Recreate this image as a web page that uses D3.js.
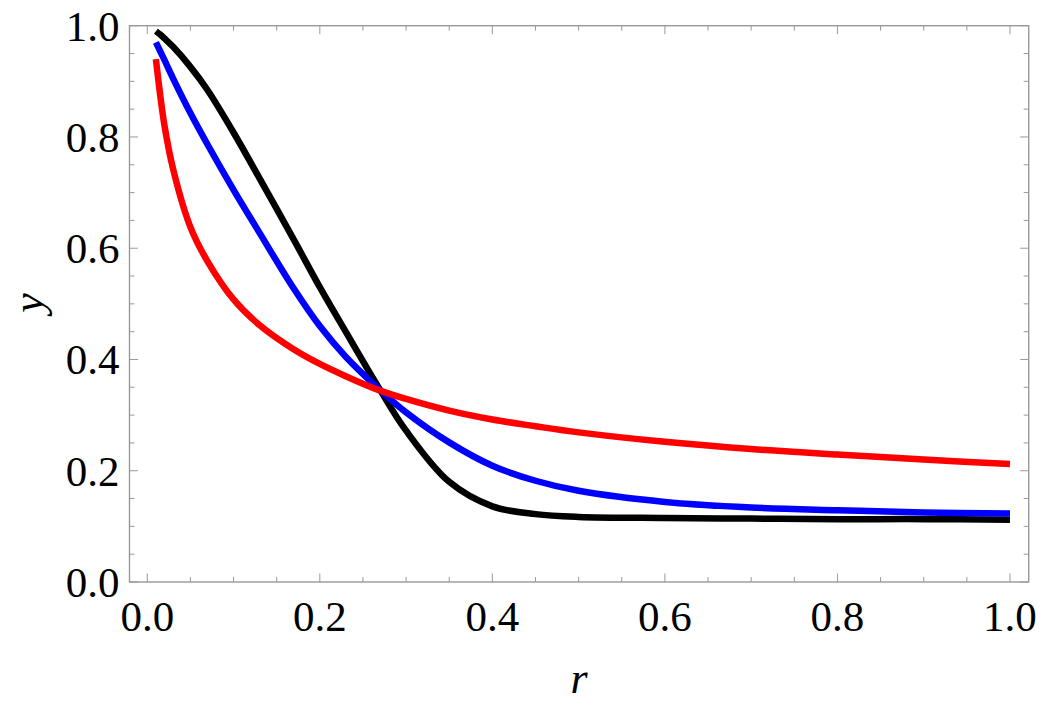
<!DOCTYPE html>
<html>
<head>
<meta charset="utf-8">
<script src="https://cdn.jsdelivr.net/npm/d3@7"></script>
<style>
  html, body { margin: 0; padding: 0; background: #fff; }
  text { font-family: "Liberation Serif", "Times New Roman", serif; fill: #000; }
</style>
</head>
<body>
<svg id="chart" width="1042" height="707"></svg>
<script>
// values
var rValues = [0.01, 0.015, 0.02, 0.03, 0.05, 0.07, 0.1, 0.13, 0.17, 0.2, 0.23, 0.27, 0.3, 0.35, 0.4, 0.45, 0.5, 0.6, 0.7, 0.8, 0.9, 1.0];
var blackY = [0.99, 0.984, 0.977, 0.962, 0.926, 0.884, 0.808, 0.726, 0.615, 0.53, 0.45, 0.345, 0.272, 0.18, 0.136, 0.122, 0.117, 0.115, 0.114, 0.113, 0.113, 0.112];
var blueY = [0.97, 0.954, 0.938, 0.905, 0.843, 0.786, 0.705, 0.628, 0.527, 0.46, 0.405, 0.345, 0.305, 0.251, 0.209, 0.182, 0.164, 0.144, 0.134, 0.129, 0.125, 0.123];
var redY = [0.94, 0.875, 0.82, 0.742, 0.638, 0.576, 0.508, 0.462, 0.418, 0.392, 0.37, 0.344, 0.329, 0.308, 0.292, 0.28, 0.269, 0.252, 0.239, 0.229, 0.22, 0.212];
var majorTicks = [0, 0.2, 0.4, 0.6, 0.8, 1.0];
var minorTicks = [0.05, 0.1, 0.15, 0.25, 0.3, 0.35, 0.45, 0.5, 0.55, 0.65, 0.7, 0.75, 0.85, 0.9, 0.95];

var series = [
  { name: "black", color: "#000000", values: blackY },
  { name: "blue", color: "#0000ff", values: blueY },
  { name: "red", color: "#ff0000", values: redY }
];

// frame of the plot
var frame = { left: 129.5, right: 1028.7, top: 25.7, bottom: 582 };
var frameColor = "#999999";

var svg = d3.select("#chart");

var x = d3.scaleLinear().domain([-0.0206, 1.0217]).range([frame.left, frame.right]);
var y = d3.scaleLinear().domain([0, 1]).range([frame.bottom, frame.top]);

// ticks on all four sides, pointing inward
function drawTicks(vals, len, side) {
  var g = svg.append("g").attr("stroke", frameColor).attr("stroke-width", 1);
  vals.forEach(function (v) {
    if (side == "bottom") g.append("line").attr("x1", x(v)).attr("x2", x(v)).attr("y1", frame.bottom).attr("y2", frame.bottom - len);
    if (side == "top") g.append("line").attr("x1", x(v)).attr("x2", x(v)).attr("y1", frame.top).attr("y2", frame.top + len);
    if (side == "left") g.append("line").attr("y1", y(v)).attr("y2", y(v)).attr("x1", frame.left).attr("x2", frame.left + len);
    if (side == "right") g.append("line").attr("y1", y(v)).attr("y2", y(v)).attr("x1", frame.right).attr("x2", frame.right - len);
  });
}
["bottom", "top", "left", "right"].forEach(function (s) {
  drawTicks(majorTicks, 8.5, s);
  drawTicks(minorTicks, 5, s);
});

svg.append("rect")
  .attr("x", frame.left).attr("y", frame.top)
  .attr("width", frame.right - frame.left).attr("height", frame.bottom - frame.top)
  .attr("fill", "none")
  .attr("stroke", frameColor)
  .attr("stroke-width", 1.4);

// tick labels
svg.append("g").selectAll("text")
  .data(majorTicks)
  .join("text")
  .attr("x", function (d) { return x(d); })
  .attr("y", frame.bottom + 49)
  .attr("text-anchor", "middle")
  .attr("font-size", 43)
  .text(function (d) { return d3.format(".1f")(d); });

svg.append("g").selectAll("text")
  .data(majorTicks)
  .join("text")
  .attr("x", frame.left - 10)
  .attr("y", function (d) { return y(d) + 15; })
  .attr("text-anchor", "end")
  .attr("font-size", 43)
  .text(function (d) { return d3.format(".1f")(d); });

// axis labels
svg.append("text")
  .attr("x", 579).attr("y", 693)
  .attr("text-anchor", "middle")
  .attr("font-size", 44)
  .attr("font-style", "italic")
  .text("r");

svg.append("text")
  .attr("transform", "translate(43,303) rotate(-90)")
  .attr("text-anchor", "middle")
  .attr("font-size", 44)
  .attr("font-style", "italic")
  .text("y");

// curves
var line = d3.line()
  .x(function (d, i) { return x(rValues[i]); })
  .y(function (d) { return y(d); })
  .curve(d3.curveCatmullRom.alpha(0.5));

series.forEach(function (s) {
  svg.append("path")
    .datum(s.values)
    .attr("fill", "none")
    .attr("stroke", s.color)
    .attr("stroke-width", 6.5)
    .attr("stroke-linejoin", "round")
    .attr("d", line);
});
</script>
</body>
</html>
